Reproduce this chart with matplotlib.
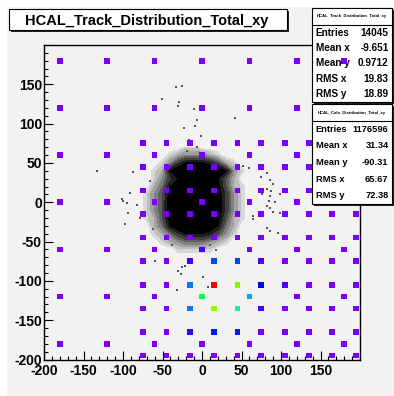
import numpy as np
import matplotlib
matplotlib.use("Agg")
import matplotlib.pyplot as plt
from matplotlib.colors import ListedColormap, Normalize, hsv_to_rgb
from matplotlib.patches import Rectangle

plt.rcParams['font.family'] = ['Liberation Sans', 'DejaVu Sans']
plt.rcParams['axes.unicode_minus'] = False

# ---------------- data ----------------
title = "HCAL_Track_Distribution_Total_xy"

# calorimeter cells (relative counts, max = 100)
inner_x = [-75, -45, -15, 15, 45, 75, 105, 135, 165, 195]
inner_y = [75, 45, 15, -15, -45, -75, -105, -135, -165, -195]
inner_z = [
    [6, 6, 6, 6, 6, 6, 6, 6, 6, 6],
    [6, 6, 6, 6, 6, 6, 6, 6, 6, 6],
    [6, 6, 6, 6, 6, 6, 6, 6, 6, 6],
    [6, 6, 6, 6, 6, 6, 6, 6, 6, 6],
    [6, 6, 6, 6, 6, 6, 6, 6, 6, 6],
    [6, 6, 10, 21, 21, 10, 6, 6, 6, 6],
    [6, 6, 26, 100, 67, 15, 10, 6, 6, 6],
    [6, 6, 26, 69, 46, 10, 6, 6, 6, 6],
    [6, 6, 12, 17, 17, 6, 6, 6, 6, 6],
    [6, 6, 6, 6, 6, 6, 6, 6, 6, 6],
]
outer_x = [-180, -120, -60, 0, 60, 120, 180]
outer_y = [180, 120, 60, 0, -60, -120, -180]
outer_z = [
    [6, 6, 6, 6, 6, 6, 6],
    [6, 6, 6, 6, 6, 6, 6],
    [6, 6, 6, 6, 6, 6, 6],
    [6, 6, 6, 6, 6, 6, 6],
    [6, 6, 6, 10, 6, 6, 6],
    [6, 6, 6, 51, 30, 6, 6],
    [6, 6, 6, 6, 6, 6, 6],
]

# track density (0 = empty, 10 = saturated black), rows in ascending y
blob_x = [-80, -70, -60, -50, -40, -30, -20, -10, 0, 10, 20, 30, 40, 50, 60]
blob_y = [-70, -60, -50, -40, -30, -20, -10, 0, 10, 20, 30, 40, 50, 60, 70]
blob_z = [
    [0, 0, 0, 0, 0, 0, 0, 0, 0, 0, 0, 0, 0, 0, 0],
    [0, 0, 0, 0, 0, 1, 1, 1, 1, 1, 0, 0, 0, 0, 0],
    [0, 0, 0, 1, 2, 3, 4, 4, 4, 3, 2, 1, 0, 0, 0],
    [0, 0, 1, 2, 4, 6, 8, 8, 8, 7, 5, 3, 1, 0, 0],
    [0, 0, 2, 4, 8, 10, 10, 10, 10, 10, 8, 4, 2, 0, 0],
    [0, 1, 2, 5, 9, 10, 10, 10, 10, 10, 9, 5, 2, 1, 0],
    [0, 1, 3, 5, 10, 10, 10, 10, 10, 10, 10, 6, 3, 1, 0],
    [0, 1, 3, 5, 10, 10, 10, 10, 10, 10, 10, 6, 3, 1, 0],
    [0, 1, 3, 5, 9, 10, 10, 10, 10, 10, 10, 6, 3, 1, 0],
    [0, 0, 2, 4, 8, 10, 10, 10, 10, 10, 9, 5, 2, 1, 0],
    [0, 0, 1, 3, 6, 8, 8, 8, 8, 8, 8, 5, 2, 0, 0],
    [0, 0, 1, 2, 8, 10, 10, 10, 10, 10, 10, 8, 3, 1, 0],
    [0, 0, 0, 1, 3, 6, 8, 8, 8, 7, 5, 2, 1, 0, 0],
    [0, 0, 0, 0, 1, 2, 3, 3, 3, 2, 1, 0, 0, 0, 0],
    [0, 0, 0, 0, 0, 0, 1, 1, 0, 0, 0, 0, 0, 0, 0],
]

# isolated track hits
stray_x = [-33.3, -24.9, -50.3, -28.7, -30.0, -10.1, -5.9, -8.5, -22.4, -1.6, -16.5, 41.8, -132.5,
           52.3, 59.9, 81.9, 74.3, 86.1, 90.3, 81.9, 87.3, 76.3, 98.7, 86.1, 92.4, 86.1, 90.3, 98.7,
           84.8, 81.9, 64.9, 64.9, 81.9, 86.1, 95.8,
           -30.0, -21.5, -31.3, -59.5, -38.4, 10.1, 17.7, -26.6, 0.9, 8.0, -24.9,
           -97.5, -93.3, -82.7, -87.0, -91.1, -99.6, -65.8, -78.5, -61.6, -101.6, -94.6,
           -19.4, -6.7]
stray_y = [146.8, 148.1, 131.6, 127.5, 122.0, 118.6, 105.0, 96.7, 94.2, 84.0, 79.0, 107.6, 39.7,
           46.5, 43.9, 37.2, 32.2, 28.7, 23.3, 17.0, 13.9, 11.0, 11.0, 7.6, 0.5, -7.1, -12.7, -13.4,
           1.3, -5.0, -17.7, -21.9, -32.4, -36.7, -38.7,
           -87.3, -81.0, -111.4, -75.0, -54.8, -54.8, -60.8, -91.5, -94.9, -107.6, -81.8,
           -28.2, -13.4, -2.9, 38.5, 11.9, 1.3, 26.6, -19.7, -34.6, 4.3, -0.8,
           64.6, 70.9]

stats1_title = "HCAL_Track_Distribution_Total_xy"
stats1_labels = ["Entries", "Mean x", "Mean y", "RMS x", "RMS y"]
stats1_values = ["14045", "-9.651", "0.9712", "19.83", "18.89"]
stats2_title = "HCAL_Calo_Distribution_Total_xy"
stats2_labels = ["Entries", "Mean x", "Mean y", "RMS x", "RMS y"]
stats2_values = ["1176596", "31.34", "-90.31", "65.67", "72.38"]

x_major = [-200, -150, -100, -50, 0, 50, 100, 150]
y_major = [-200, -150, -100, -50, 0, 50, 100, 150]

# ---------------- figure ----------------
W, H = 394, 396
fig = plt.figure(figsize=(W / 100, H / 100), dpi=100)
fig.patch.set_facecolor("white")

def fx(x):
    return x / W

def fy(y):
    return 1 - y / H

# canvas background
fig.patches.append(Rectangle((fx(7), 0), 1 - fx(7), fy(7), transform=fig.transFigure,
                             facecolor="#f2f2f2", edgecolor="none", zorder=-5))

ax = fig.add_axes([fx(44), fy(359.5), (360 - 44) / W, (359.5 - 45) / H])
ax.set_facecolor("none")
ax.set_xlim(-200, 200)
ax.set_ylim(-200, 200)

# track density
bz = np.array(blob_z, dtype=float)
ax.contourf(blob_x, blob_y, bz, levels=[0.6, 1.2, 2, 3, 4, 5, 6.5, 8, 11],
            colors=["#d8d8d8", "#bdbdbd", "#a0a0a0", "#808080", "#606060",
                    "#404040", "#1e1e1e", "#000000"], zorder=1)
ax.scatter(stray_x, stray_y, s=1.2, marker="s", color="#555555", linewidths=0, zorder=1.2)

# calorimeter cells
pal = ListedColormap([hsv_to_rgb((280 * (1 - i / 49) / 360.0, 1, 1)) for i in range(50)])
norm = Normalize(0, 100.5)
ix, iy = np.meshgrid(inner_x, inner_y)
ox, oy = np.meshgrid(outer_x, outer_y)
ax.scatter(ix.ravel(), iy.ravel(), c=np.array(inner_z).ravel(), cmap=pal, norm=norm,
           marker="s", s=17, linewidths=0, zorder=3)
ax.scatter(ox.ravel(), oy.ravel(), c=np.array(outer_z).ravel(), cmap=pal, norm=norm,
           marker="s", s=17, linewidths=0, zorder=3)

# axes style
for s in ax.spines.values():
    s.set_linewidth(1.0)
    s.set_color("black")
ax.set_xticks(x_major)
ax.set_yticks(y_major)
ax.set_xticks(np.arange(-200, 201, 10), minor=True)
ax.set_yticks(np.arange(-200, 201, 10), minor=True)
ax.tick_params(which="both", direction="in", top=False, right=False, width=0.8, color="black")
ax.tick_params(which="major", length=6.5)
ax.tick_params(which="minor", length=3.2)
ax.tick_params(axis="x", which="major", pad=3.5)
ax.tick_params(axis="y", which="major", pad=1.5)
for lab in ax.get_xticklabels() + ax.get_yticklabels():
    lab.set_fontsize(10)
    lab.set_fontweight("bold")

# stat boxes
def stat_box(x0, y0, x1, y1, hline, title_txt, labels, values, z, fs, tfs):
    ax.add_patch(Rectangle((fx(x0 + 1.5), fy(y1 + 1.5)), fx(x1 - x0), (y1 - y0) / H,
                           transform=fig.transFigure, facecolor="#222222", edgecolor="none",
                           clip_on=False, zorder=z))
    ax.add_patch(Rectangle((fx(x0), fy(y1)), fx(x1 - x0), (y1 - y0) / H,
                           transform=fig.transFigure, facecolor="white", edgecolor="black",
                           linewidth=0.8, clip_on=False, zorder=z + 0.01))
    ax.plot([fx(x0), fx(x1)], [fy(hline), fy(hline)], transform=fig.transFigure, color="black",
            linewidth=0.8, clip_on=False, zorder=z + 0.02)
    ax.text(fx((x0 + x1) / 2), fy((y0 + hline) / 2), title_txt, transform=fig.transFigure,
            ha="center", va="center", fontsize=tfs, fontweight="bold", clip_on=False, zorder=z + 0.03)
    step = (y1 - hline) / len(labels)
    for i, (l, v) in enumerate(zip(labels, values)):
        yc = hline + step * (i + 0.5)
        ax.text(fx(x0 + 3.5), fy(yc), l, transform=fig.transFigure, ha="left", va="center",
                fontsize=fs, fontweight="bold", clip_on=False, zorder=z + 0.03)
        ax.text(fx(x1 - 3.5), fy(yc), v, transform=fig.transFigure, ha="right", va="center",
                fontsize=fs, fontweight="bold", clip_on=False, zorder=z + 0.03)

stat_box(312, 8, 392, 102, 25, stats1_title, stats1_labels, stats1_values, 2.7, 7.2, 3.1)
stat_box(312, 104, 392, 204, 121, stats2_title, stats2_labels, stats2_values, 10, 6.7, 3.1)

# title box
fig.patches.append(Rectangle((fx(11), fy(32)), fx(287 - 9), (30 - 9) / H, transform=fig.transFigure,
                             facecolor="#222222", edgecolor="none", zorder=5))
fig.patches.append(Rectangle((fx(9), fy(30)), fx(287 - 9), (30 - 9) / H, transform=fig.transFigure,
                             facecolor="white", edgecolor="black", linewidth=0.8, zorder=5.1))
fig.text(fx(147), fy(24.5), title, ha="center", va="baseline", fontsize=10.5,
         fontweight="bold", zorder=5.2)

fig.savefig("out.png", dpi=100)
